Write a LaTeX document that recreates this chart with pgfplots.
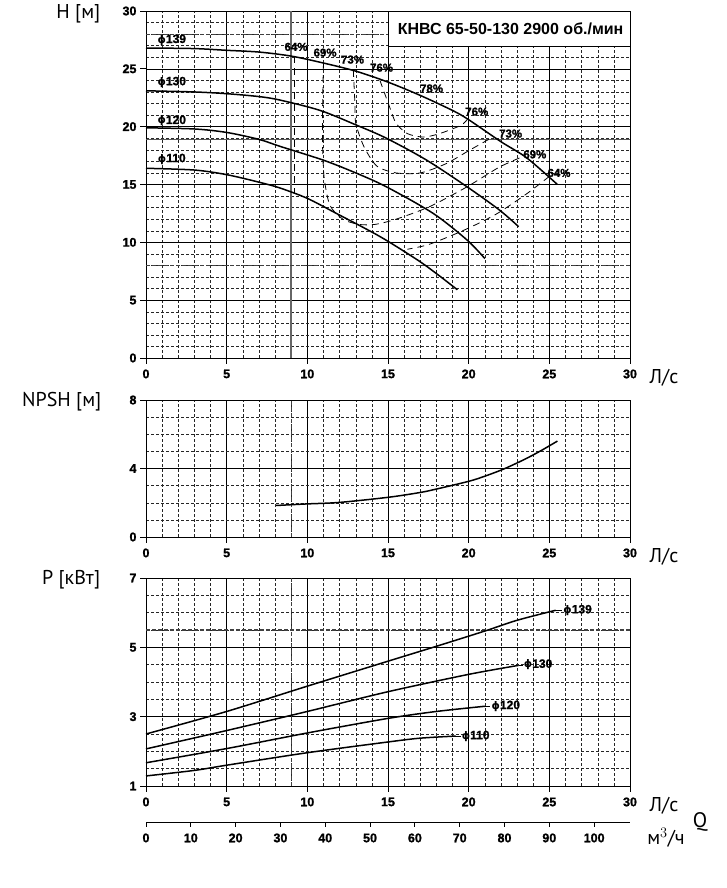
\documentclass[border=0pt]{standalone}
\usepackage{pgfplots}
\pgfplotsset{compat=1.18}
\usepackage{fontspec}
\setmainfont{Liberation Sans}
\newfontfamily\tickfont{Liberation Sans}[BoldFeatures={FakeBold=1.3}]
\newfontfamily\labfont{PT Sans}
\newfontfamily\phifont{DejaVu Sans}
\newcommand\tf{\tickfont\bfseries\fontsize{12.5}{13}\selectfont}
\newcommand\df{\tickfont\bfseries\fontsize{12}{13}\selectfont}
\newcommand\pf{\tickfont\bfseries\fontsize{11.5}{12}\selectfont}
\newcommand\lf{\labfont\fontsize{20}{21}\selectfont}
\newcommand\dia[1]{{\phifont\bfseries\fontsize{10.5}{12}\selectfont ϕ}#1}
\pgfplotsset{
  chart/.style={
    scale only axis, anchor=south west,
    xmin=0, xmax=30, xtick={0,5,...,30}, minor x tick num=4,
    grid=both,
    major grid style={black, line width=0.6pt},
    minor grid style={black!85, line width=0.4pt, dash pattern=on 3pt off 2pt},
    axis line style={black, line width=0.8pt},
    tick align=outside, tick pos=left,
    major tick length=6pt, minor tick length=0pt,
    tick style={black, line width=0.8pt},
    ticklabel style={font=\tf},
    xticklabel style={yshift=-2pt},
    /pgf/number format/assume math mode=true,
    clip=false,
  },
  curve/.style={black, line width=1.5pt, smooth},
  eff/.style={black, line width=0.8pt, dash pattern=on 7pt off 5pt, smooth, tension=0.45},
}
\begin{document}
\begin{tikzpicture}[x=1pt,y=1pt]
\path[use as bounding box] (0,0) rectangle (726,888);

% ---------------- H ----------------
\begin{axis}[chart, at={(146pt,530pt)}, width=484pt, height=347pt,
  ymin=0, ymax=30, ytick={0,5,...,30}, minor y tick num=4]
\draw[black!60, line width=1.6pt] (axis cs:9,0) -- (axis cs:9,30);
\draw[black!75, line width=1.2pt, dash pattern=on 4pt off 2pt] (axis cs:0,28) -- (axis cs:30,28);
\draw[black!75, line width=1.2pt, dash pattern=on 4pt off 2pt] (axis cs:0,8) -- (axis cs:30,8);
\draw[black!65, line width=1.4pt] (axis cs:0,18.9) -- (axis cs:30,18.9);
% impeller curves
\addplot[curve] coordinates {(0,26.8)(3,26.75)(5,26.6)(7,26.45)(9,26.1)(11,25.5)(13,24.8)(15,23.85)(17,22.7)(19,21.4)(20,20.6)(22,18.7)(23.6,17.3)(25.5,15)};
\addplot[curve] coordinates {(0,23.1)(3,23.0)(5,22.85)(7,22.6)(8.3,22.3)(10.8,21.4)(13.1,20.1)(14.9,19)(17.4,17.1)(19.9,14.8)(21.9,12.8)(23.1,11.35)};
\addplot[curve] coordinates {(0,19.9)(3,19.8)(5,19.5)(7,18.9)(8.3,18.3)(11,17.1)(13,16)(14.9,14.8)(17.8,12.5)(19.9,10.2)(21,8.6)};
\addplot[curve] coordinates {(0,16.4)(3,16.25)(5,15.85)(7,15.2)(8.3,14.7)(10,13.8)(11.8,12.5)(14.5,10.5)(16.8,8.5)(18,7.3)(19.3,5.9)};
% efficiency contours
\addplot[eff, sharp plot] coordinates {(9.2,26.1)(9.2,14.2)};
\addplot[eff] coordinates {(25.0,15.7)(23.6,14.2)(21.9,12.6)(20.7,11.7)(19.3,10.8)(17.5,9.8)(16.2,9.4)};
\addplot[eff] coordinates {(11,25.5)(10.95,22)(10.95,18)(11.05,15.5)(11.4,13.2)(12.2,12.0)(13.2,11.55)(14.2,11.55)(15.5,12.0)(17.6,13.1)(19.9,14.8)(21.9,16.5)(23.5,17.5)};
\addplot[eff] coordinates {(12.85,24.9)(12.95,22)(13.0,20.3)(13.5,18.3)(14.3,16.6)(15.5,16.0)(17,16.0)(18.6,16.8)(20.1,18.0)(21.5,19.1)};
\addplot[eff] coordinates {(14.5,24.0)(15.1,21.7)(15.5,20.3)(16.2,19.4)(17.2,19.1)(18.2,19.4)(19.5,20.1)(19.9,20.6)};
% labels
\node[font=\pf] at (axis cs:9.3,26.9) {64\%};
\node[font=\pf] at (axis cs:11.1,26.4) {69\%};
\node[font=\pf] at (axis cs:12.8,25.8) {73\%};
\node[font=\pf] at (axis cs:14.6,25.1) {76\%};
\node[font=\pf] at (axis cs:17.7,23.3) {78\%};
\node[font=\pf] at (axis cs:20.5,21.3) {76\%};
\node[font=\pf] at (axis cs:22.6,19.4) {73\%};
\node[font=\pf] at (axis cs:24.1,17.6) {69\%};
\node[font=\pf] at (axis cs:25.6,16.0) {64\%};
\node[font=\df] at (axis cs:1.6,27.5) {\dia{139}};
\node[font=\df] at (axis cs:1.6,23.85) {\dia{130}};
\node[font=\df] at (axis cs:1.6,20.5) {\dia{120}};
\node[font=\df] at (axis cs:1.6,17.2) {\dia{110}};
\draw[fill=white, line width=0.8pt] (axis cs:15,26.9) rectangle (axis cs:30,30);
\node[font=\bfseries\fontsize{16}{17}\selectfont] at (axis cs:22.6,28.45) {КНВС 65-50-130 2900 об./мин};
\end{axis}

% ---------------- NPSH ----------------
\begin{axis}[chart, at={(146pt,351pt)}, width=484pt, height=137pt,
  ymin=0, ymax=8, ytick={0,4,8}, minor y tick num=3]
\draw[black!75, line width=1.2pt, dash pattern=on 4pt off 2pt] (axis cs:9,0) -- (axis cs:9,8);
\addplot[curve] coordinates {(8.07,1.84)(9.94,1.93)(12,2.02)(15.03,2.32)(17,2.6)(18,2.8)(20,3.25)(21,3.55)(22.2,3.98)(23.5,4.55)(24.5,5.05)(25.5,5.6)};
\end{axis}

% ---------------- P ----------------
\begin{axis}[chart, at={(146pt,102pt)}, width=484pt, height=208pt,
  ymin=1, ymax=7, ytick={1,3,5,7}, minor y tick num=3]
\draw[black!75, line width=1.2pt, dash pattern=on 4pt off 2pt] (axis cs:9,1) -- (axis cs:9,7);
\draw[black!75, line width=1.2pt, dash pattern=on 4pt off 2pt] (axis cs:0,5.5) -- (axis cs:30,5.5);
\addplot[curve] coordinates {(0,2.5)(5,3.15)(10,3.88)(15,4.6)(18,5.03)(21,5.47)(23,5.78)(25.4,6.07)};
\addplot[curve] coordinates {(0,2.07)(5,2.6)(10,3.15)(15,3.72)(20,4.22)(23.1,4.48)};
\addplot[curve] coordinates {(0,1.67)(5,2.08)(10,2.53)(15,2.95)(18,3.15)(21,3.3)};
\addplot[curve] coordinates {(0,1.29)(3,1.45)(5,1.6)(10,1.96)(15,2.27)(17,2.38)(19.2,2.44)};
\draw[line width=0.8pt] (axis cs:25.4,6.07) -- (axis cs:25.8,6.07);
\draw[line width=0.8pt] (axis cs:23.1,4.48) -- (axis cs:23.35,4.48);
\draw[line width=0.8pt] (axis cs:21,3.3) -- (axis cs:21.35,3.3);
\draw[line width=0.8pt] (axis cs:19.2,2.44) -- (axis cs:19.5,2.44);
\node[font=\df, anchor=west, inner sep=1pt] at (axis cs:25.8,6.07) {\dia{139}};
\node[font=\df, anchor=west, inner sep=1pt] at (axis cs:23.35,4.5) {\dia{130}};
\node[font=\df, anchor=west, inner sep=1pt] at (axis cs:21.35,3.31) {\dia{120}};
\node[font=\df, anchor=west, inner sep=1pt] at (axis cs:19.5,2.44) {\dia{110}};
\end{axis}

% ---------------- m3/h axis ----------------
\begin{axis}[scale only axis, anchor=south west, at={(146pt,66pt)}, width=484pt, height=1pt,
  xmin=0, xmax=108, ymin=0, ymax=1, axis x line=bottom, axis y line=none,
  axis line style={-, black, line width=0.8pt},
  xtick={0,10,...,100}, tick align=outside, major tick length=5pt,
  tick style={black, line width=0.8pt},
  ticklabel style={font=\tf}, xticklabel style={yshift=-3pt},
  /pgf/number format/assume math mode=true]
\addplot[draw=none] coordinates {(0,0)(108,0)};
\end{axis}

% ---------------- labels ----------------
\node[font=\lf, anchor=base east, inner sep=0pt] at (100.5,869.7) {H [м]};
\node[font=\lf, anchor=base east, inner sep=0pt] at (101.5,481.3) {NPSH [м]};
\node[font=\lf, anchor=base east, inner sep=0pt] at (100.5,303) {P [кВт]};
\node[font=\lf, anchor=base, inner sep=0pt] at (664,504.3) {Л/с};
\node[font=\lf, anchor=base, inner sep=0pt] at (664,325.3) {Л/с};
\node[font=\lf, anchor=base, inner sep=0pt] at (664,76.3) {Л/с};
\node[font=\labfont\fontsize{21}{22}\selectfont, anchor=base, inner sep=0pt] at (700,60) {Q};
\node[font=\lf, anchor=base, inner sep=0pt] at (666,43) {м$^3$/ч};
\end{tikzpicture}
\end{document}
